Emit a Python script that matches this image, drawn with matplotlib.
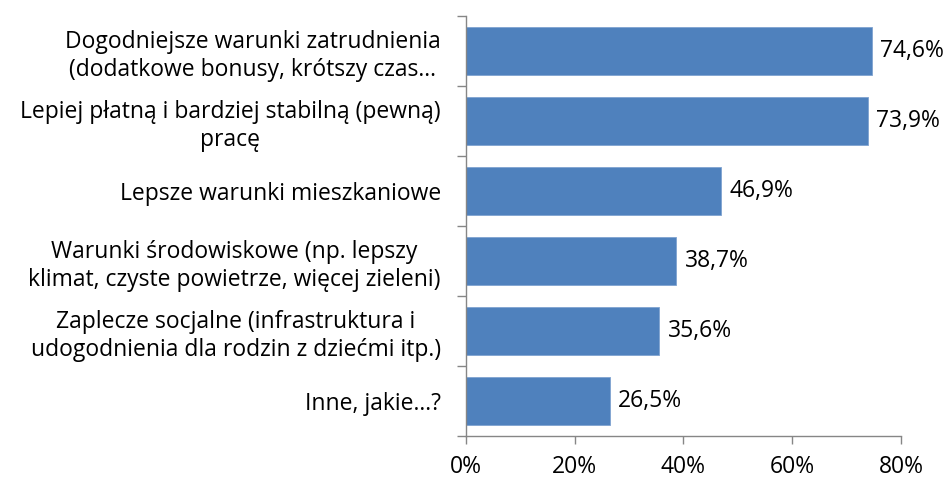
import matplotlib
matplotlib.use("Agg")
import matplotlib.pyplot as plt

categories = [
    "Dogodniejsze warunki zatrudnienia\n(dodatkowe bonusy, krótszy czas…",
    "Lepiej płatną i bardziej stabilną (pewną)\npracę",
    "Lepsze warunki mieszkaniowe",
    "Warunki środowiskowe (np. lepszy\nklimat, czyste powietrze, więcej zieleni)",
    "Zaplecze socjalne (infrastruktura i\nudogodnienia dla rodzin z dziećmi itp.)",
    "Inne, jakie…?",
]
values = [74.6, 73.9, 46.9, 38.7, 35.6, 26.5]
value_labels = ["74,6%", "73,9%", "46,9%", "38,7%", "35,6%", "26,5%"]
xticks = [0, 20, 40, 60, 80]
xtick_labels = ["0%", "20%", "40%", "60%", "80%"]

plt.rcParams['font.family'] = ['Open Sans', 'DejaVu Sans']
FS = 16.5
fig = plt.figure(figsize=(9.48, 4.79), dpi=100)
ax = fig.add_axes([0.4913, 0.0898, 0.9504 - 0.4913, 0.9666 - 0.0898])

n = len(categories)
ypos = list(range(n))
ax.barh(ypos, values, height=0.68, color='#4F81BD', edgecolor='#7FA3D0', linewidth=0.6)
ax.set_ylim(n - 0.5, -0.5)
ax.set_xlim(0, 80)

for y, v, lab in zip(ypos, values, value_labels):
    ax.annotate(lab, (v, y), xytext=(6, 0), textcoords='offset points',
                va='center', ha='left', fontsize=FS, color='black')

ax.set_yticks([i - 0.5 for i in range(n + 1)], minor=False)
ax.set_yticklabels([])
ax.set_yticks(ypos, minor=True)
ax.set_yticklabels(categories, minor=True, fontsize=FS, multialignment='center',
                   linespacing=1.25)
ax.tick_params(axis='y', which='minor', length=0, pad=18)
ax.tick_params(axis='y', which='major', length=6.5, color='#868686', width=1)

ax.set_xticks(xticks)
ax.set_xticklabels(xtick_labels, fontsize=FS)
ax.tick_params(axis='x', length=6, color='#868686', width=1, pad=8)

for s in ['top', 'right']:
    ax.spines[s].set_visible(False)
for s in ['left', 'bottom']:
    ax.spines[s].set_color('#868686')
    ax.spines[s].set_linewidth(1)

fig.savefig("out.png", dpi=100)
